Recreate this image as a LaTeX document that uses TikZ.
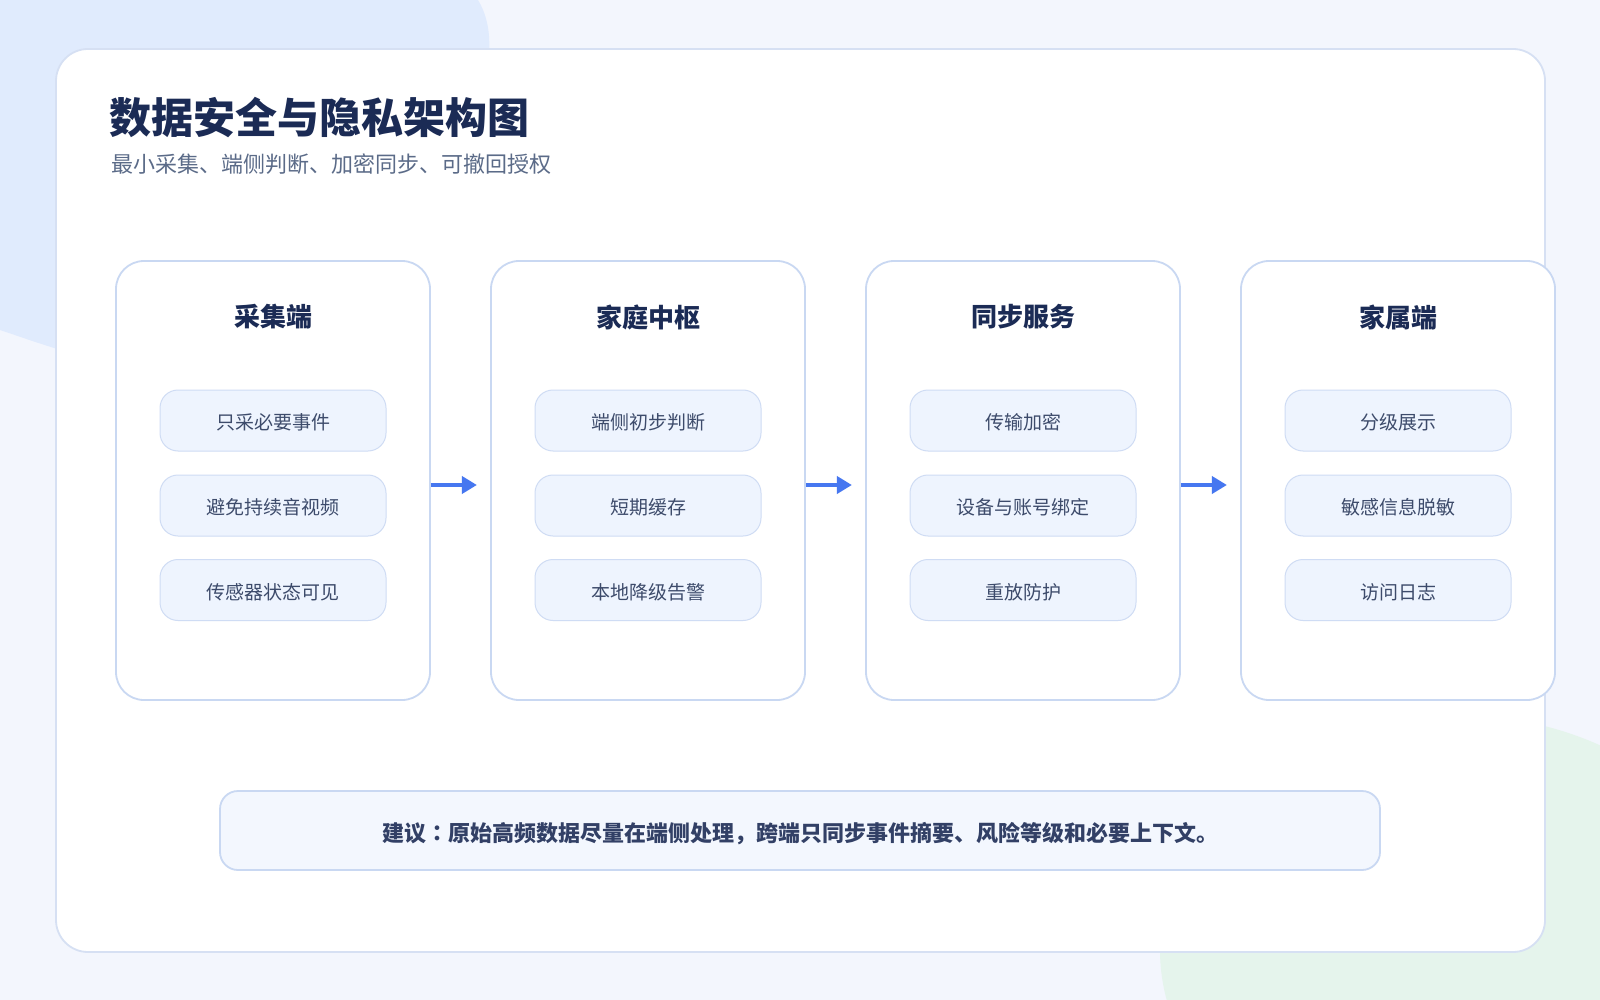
\documentclass[tikz,border=0pt]{standalone}
\usepackage{fontspec}
\setmainfont{Noto Sans CJK SC}
\newfontfamily\tcfont{Noto Sans CJK TC}
\usetikzlibrary{arrows.meta}
\definecolor{bgc}{HTML}{F3F6FD}
\definecolor{blobblue}{HTML}{E0EBFD}
\definecolor{blobgreen}{HTML}{E5F4EC}
\definecolor{outerline}{HTML}{D6E0F3}
\definecolor{cardline}{HTML}{C9D8F2}
\definecolor{pillfill}{HTML}{EEF4FE}
\definecolor{pillline}{HTML}{CFDCF4}
\definecolor{notefill}{HTML}{F3F7FE}
\definecolor{navy}{HTML}{1B2B55}
\definecolor{pilltext}{HTML}{3D4B6B}
\definecolor{subtext}{HTML}{5B6B88}
\definecolor{arrowblue}{HTML}{4677F0}
\tikzset{
  outercard/.style={draw=outerline, line width=1.8pt, fill=white, rounded corners=32pt,
    minimum width=1489pt, minimum height=903pt, inner sep=0pt},
  colcard/.style={draw=cardline, line width=1.8pt, fill=white, rounded corners=28pt,
    minimum width=314pt, minimum height=439pt, inner sep=0pt},
  coltitle/.style={text=navy, font=\fontsize{26}{30}\selectfont\bfseries, inner sep=0pt},
  pill/.style={draw=pillline, line width=1pt, fill=pillfill, rounded corners=18pt,
    minimum width=226pt, minimum height=61pt, inner sep=0pt, text=pilltext,
    text height=18pt, text depth=0pt,
    font=\fontsize{19}{22}\selectfont},
  notebox/.style={draw=cardline, line width=1.8pt, fill=notefill, rounded corners=18pt,
    minimum width=1160pt, minimum height=79pt, inner sep=0pt, text=navy!90!white,
    text height=22.5pt, text depth=0pt,
    font=\fontsize{22}{26}\selectfont\bfseries},
  flowarrow/.style={draw=arrowblue, line width=4pt, -{Triangle[length=15pt,width=17pt]}}
}
\begin{document}
\begin{tikzpicture}[x=1pt,y=-1pt]
\useasboundingbox (0,0) rectangle (1600,1000);
\fill[bgc] (0,0) rectangle (1600,1000);
\fill[blobblue] (0,0) -- (478,0) .. controls (545,110) and (300,400) .. (120,365)
  .. controls (70,355) and (30,340) .. (0,330) -- cycle;
\fill[blobgreen] (1455,950) ellipse [x radius=295, y radius=235];

\node[outercard] (card) at (800.5,500.5) {};

\node[anchor=west, inner sep=0pt, text=navy, font=\fontsize{42}{48}\selectfont\bfseries]
  (title) at (109,118) {数据安全与隐私架构图};
\node[anchor=west, inner sep=0pt, text=subtext, font=\fontsize{22}{26}\selectfont]
  (subtitle) at (111,164) {最小采集、端侧判断、加密同步、可撤回授权};

% columns
\foreach \i/\cx/\t/\a/\b/\c in {
  1/273/采集端/只采必要事件/避免持续音视频/传感器状态可见,
  2/648/家庭中枢/端侧初步判断/短期缓存/本地降级告警,
  3/1023/同步服务/传输加密/设备与账号绑定/重放防护,
  4/1398/家属端/分级展示/敏感信息脱敏/访问日志}{
  \node[colcard] (c\i) at (\cx,480.5) {};
  \node[coltitle] (t\i) at (\cx,317) {\t};
  \node[pill] (p\i a) at (\cx,420.5) {\a};
  \node[pill] (p\i b) at (\cx,505.5) {\b};
  \node[pill] (p\i c) at (\cx,590) {\c};
}

\foreach \i in {1,2,3}{
  \coordinate (e\i) at ([xshift=46pt,yshift=-4.5pt]c\i.east);
  \draw[flowarrow] ([yshift=-4.5pt]c\i.east) -- (e\i);
}

\node[notebox] (note) at (800,830.5) {建议{\tcfont ：}原始高频数据尽量在端侧处理，跨端只同步事件摘要、风险等级和必要上下文。};
\end{tikzpicture}
\end{document}
